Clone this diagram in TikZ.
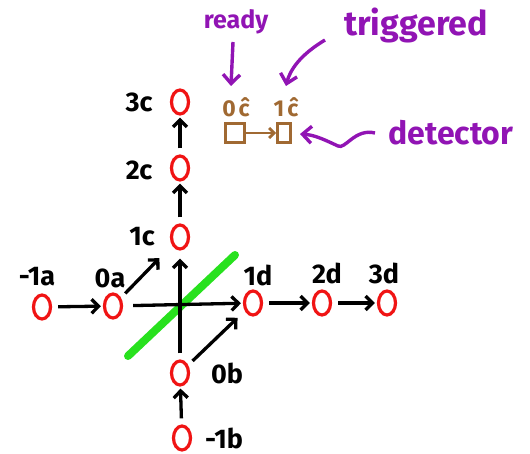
\documentclass[tikz,border=0pt]{standalone}
\usepackage{fontspec}
\setmainfont{Fira Sans}
\usetikzlibrary{shapes.geometric,arrows.meta}
\definecolor{cred}{RGB}{240,20,20}
\definecolor{cpurple}{RGB}{145,20,180}
\definecolor{cbrown}{RGB}{160,105,50}
\definecolor{cgreen}{RGB}{40,225,30}
\tikzset{
  st/.style={ellipse,draw=cred,line width=3.2pt,minimum width=17pt,minimum height=24pt,inner sep=0pt},
  lbl/.style={font=\bfseries\fontsize{27}{30}\selectfont,inner sep=0pt},
  conn/.style={line width=3.3pt,-{Straight Barb[length=7pt,width=14pt,line width=3.3pt]},shorten >=2pt,shorten <=6pt},
  note/.style={text=cpurple,inner sep=0pt},
  parr/.style={draw=cpurple,line width=3.4pt,-{Straight Barb[length=9pt,width=17pt,line width=3.4pt]}},
  det/.style={draw=cbrown,line width=3pt,minimum width=19pt,minimum height=19pt,inner sep=0pt},
  detl/.style={font=\bfseries\fontsize{23}{26}\selectfont,text=cbrown,inner sep=0pt}
}
\begin{document}
\begin{tikzpicture}[x=1pt,y=-1pt]
\useasboundingbox (0,0) rectangle (530,454);
% state nodes
\node[st] (am1) at (42,307) {};
\node[st] (a0) at (113,306) {};
\node[st] (c1) at (180,237) {};
\node[st] (c2) at (180,168) {};
\node[st] (c3) at (180,102) {};
\node[st] (d1) at (253,303) {};
\node[st] (d2) at (322,303) {};
\node[st] (d3) at (387,303) {};
\node[st] (b0) at (180,373) {};
\node[st] (bm1) at (182,438) {};
% labels
\node[lbl] (lam1) at (37,277) {-1a};
\node[lbl] (la0) at (110,278) {0a};
\node[lbl] (lc1) at (142,237) {1c};
\node[lbl] (lc2) at (139,170) {2c};
\node[lbl] (lc3) at (139,102) {3c};
\node[lbl] (ld1) at (258,275) {1d};
\node[lbl] (ld2) at (327,273) {2d};
\node[lbl] (ld3) at (384,273) {3d};
\node[lbl] (lb0) at (227,373) {0b};
\node[lbl] (lbm1) at (224,438) {-1b};
% green line
\coordinate (g1) at (128,356);
\coordinate (g2) at (235,255);
\draw[cgreen,line width=8pt,line cap=round] (g1) -- (g2);
% connectors
\draw[conn] (am1) -- (a0);
\draw[conn,shorten <=10pt] (a0) -- (d1);
\draw[conn,shorten >=18pt] (a0) -- (c1);
\draw[conn,shorten >=8pt] (b0) -- (c1);
\draw[conn,shorten >=10pt] (b0) -- (d1);
\draw[conn] (d1) -- (d2);
\draw[conn] (d2) -- (d3);
\draw[conn] (c1) -- (c2);
\draw[conn] (c2) -- (c3);
\draw[conn] (bm1) -- (b0);
% detector
\node[det] (s0) at (235,133) {};
\node[det,minimum width=13pt] (s1) at (284,133) {};
\draw[cbrown,line width=2.8pt,-{Straight Barb[length=5pt,width=10pt,line width=2.8pt]}] (s0) -- (s1);
\node[detl] (l0c) at (236,107) {0\kern3ptĉ};
\node[detl] (l1c) at (286,107) {1\kern3ptĉ};
% notes
\node[note,font=\bfseries\fontsize{25}{28}\selectfont] (nready) at (236,22) {ready};
\node[note,font=\bfseries\fontsize{34}{36}\selectfont] (ntrig) at (416,25) {triggered};
\node[note,font=\bfseries\fontsize{32}{34}\selectfont] (ndet) at (451,133) {detector};
\coordinate (rt) at (233,42);
\coordinate (rh) at (231,86);
\coordinate (tt) at (325,40);
\coordinate (th) at (286,86);
\coordinate (dt) at (375,133);
\coordinate (dh) at (300,134);
\draw[parr] (rt) -- (rh);
\draw[parr] (tt) .. controls (300,55) and (290,70) .. (th);
\draw[parr] (dt) .. controls (355,128) and (345,150) .. (338,146) .. controls (325,140) and (315,135) .. (dh);
\end{tikzpicture}
\end{document}
